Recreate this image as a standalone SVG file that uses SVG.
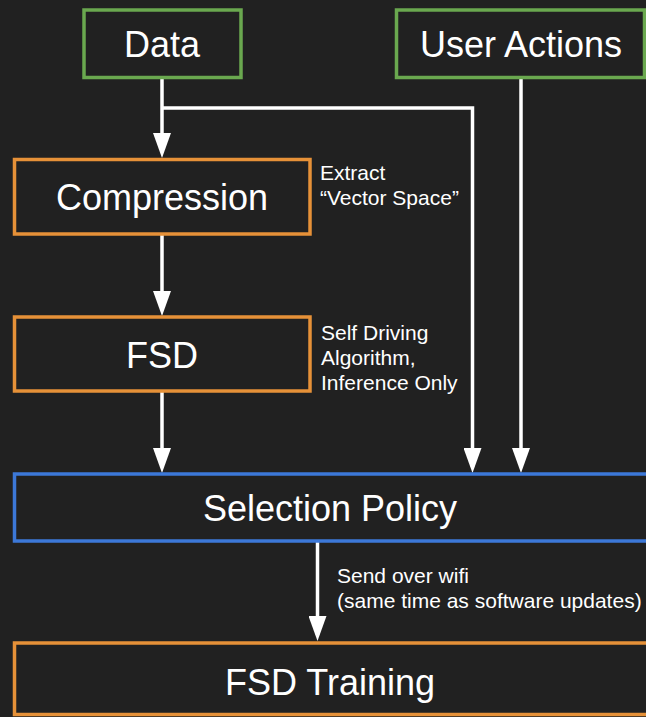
<svg xmlns="http://www.w3.org/2000/svg" width="646" height="717" viewBox="0 0 646 717">
<defs>
<style>
.box{fill:#212121;stroke-width:3.5}
.green{stroke:#6aa84f}
.orange{stroke:#e69138}
.blue{stroke:#3c78d8}
.big{font-family:"Liberation Sans",Arial,sans-serif;font-size:36px;fill:#ffffff;text-anchor:middle}
.small{font-family:"Liberation Sans",Arial,sans-serif;font-size:21px;fill:#ffffff}
.conn{fill:none;stroke:#ffffff;stroke-width:3.5;marker-end:url(#arrow)}
</style>
<marker id="arrow" markerUnits="userSpaceOnUse" markerWidth="25" markerHeight="18" refX="19" refY="9" orient="auto">
<path d="M0,0 L25,9 L0,18 z" fill="#ffffff"/>
</marker>
</defs>
<rect x="0" y="0" width="646" height="717" fill="#212121"/>
<g id="connectors">
<path class="conn" d="M162,78 V152"/>
<path class="conn" d="M162,108 H472.5 V467"/>
<path class="conn" d="M521,78 V467"/>
<path class="conn" d="M162,234 V310"/>
<path class="conn" d="M162,391 V467"/>
<path class="conn" d="M317.5,541 V635"/>
</g>
<g id="data">
<rect class="box green" x="84" y="10" width="157" height="67.5"/>
<text class="big" x="162" y="57">Data</text>
</g>
<g id="user-actions">
<rect class="box green" x="396.5" y="10" width="248" height="67.5"/>
<text class="big" x="521" y="57">User Actions</text>
</g>
<g id="compression">
<rect class="box orange" x="14.5" y="159.5" width="295.5" height="74.5"/>
<text class="big" x="162" y="210">Compression</text>
</g>
<g id="compression-label">
<text class="small" x="320" y="180">Extract</text>
<text class="small" x="320" y="205">“Vector Space”</text>
</g>
<g id="fsd">
<rect class="box orange" x="14.5" y="317" width="295.5" height="74"/>
<text class="big" x="162" y="368">FSD</text>
</g>
<g id="fsd-label">
<text class="small" x="321" y="340">Self Driving</text>
<text class="small" x="321" y="365">Algorithm,</text>
<text class="small" x="321" y="390">Inference Only</text>
</g>
<g id="selection-policy">
<rect class="box blue" x="14.5" y="474" width="640" height="67"/>
<text class="big" x="330" y="521">Selection Policy</text>
</g>
<g id="wifi-label">
<text class="small" x="337" y="583">Send over wifi</text>
<text class="small" x="337" y="608">(same time as software updates)</text>
</g>
<g id="fsd-training">
<rect class="box orange" x="14.5" y="643" width="640" height="71.5"/>
<text class="big" x="330" y="695">FSD Training</text>
</g>
</svg>
